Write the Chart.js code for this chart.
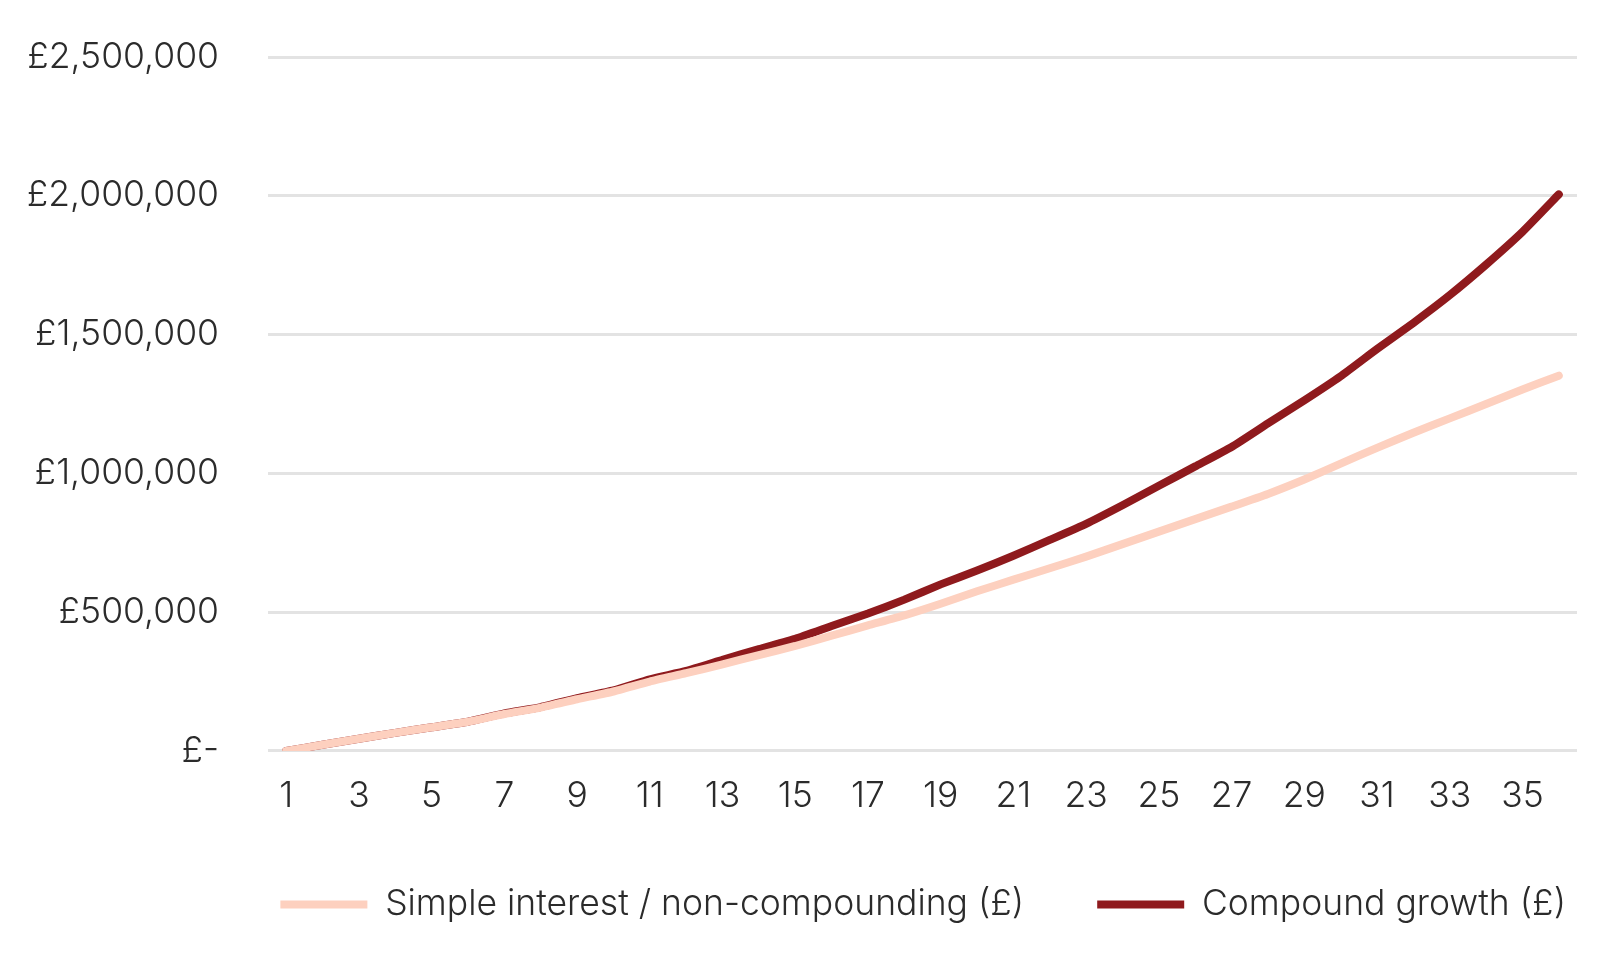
<!DOCTYPE html>
<html>
<head>
<meta charset="utf-8">
<script src="https://cdn.jsdelivr.net/npm/chart.js@4.4.1/dist/chart.umd.min.js"></script>
<style>
  html, body { margin: 0; padding: 0; background: #fff; }
  #wrap { width: 1600px; height: 958px; position: relative; }
</style>
</head>
<body>
<div id="wrap"><canvas id="growthChart"></canvas></div>
<script>
// --- Data ---
const years = Array.from({ length: 36 }, (_, i) => String(i + 1));

const simpleInterest = [
    0, 22000, 44000, 65000, 85000, 105000, 133000, 156000, 186000, 214000,
    250000, 280000, 312000, 345000, 378000, 415000, 452000, 488000, 530000, 575000,
    617000, 658000, 700000, 745000, 790000, 835000, 880000, 926000, 978000, 1035000,
    1092000, 1146000, 1198000, 1250000, 1302000, 1352000
];

const compoundGrowth = [
    0, 22000, 44000, 65000, 85000, 105000, 135000, 158000, 190000, 218000,
    258000, 288000, 328000, 367000, 404000, 450000, 495000, 545000, 600000, 650000,
    703000, 760000, 818000, 885000, 955000, 1025000, 1095000, 1180000, 1263000, 1350000,
    1448000, 1542000, 1642000, 1752000, 1870000, 2005000
];

const seriesNames = ['Simple interest / non-compounding (£)', 'Compound growth (£)'];
const seriesColors = ['#fdd0bf', '#8f1a1d'];

const yMax = 2500000;
const yStep = 500000;

Chart.defaults.font.family = 'Inter, "Noto Sans", sans-serif';
Chart.defaults.font.weight = 300;
Chart.defaults.color = '#2b2b2b';

function poundLabel(v) {
    if (v === 0) return '£-';
    return '£' + v.toLocaleString('en-GB');
}

// place the legend row: right-aligned near the edge, centred at y=908
const legendPlace = {
    id: 'legendPlace',
    afterLayout(chart) {
        const lg = chart.legend;
        const pad = lg.options.labels.padding;
        lg.right = chart.width - 34 + pad;
        lg.top = 908 - 21.3 - pad;
        lg.bottom = lg.top + lg.height;
    }
};

const ctx = document.getElementById('growthChart').getContext('2d');
new Chart(ctx, {
    type: 'line',
    data: {
        labels: years,
        datasets: [
            {
                label: seriesNames[0],
                data: simpleInterest,
                borderColor: seriesColors[0],
                backgroundColor: seriesColors[0],
                borderWidth: 8,
                pointRadius: 0,
                tension: 0.15,
                borderCapStyle: 'round'
            },
            {
                label: seriesNames[1],
                data: compoundGrowth,
                borderColor: seriesColors[1],
                backgroundColor: seriesColors[1],
                borderWidth: 8,
                pointRadius: 0,
                tension: 0.15,
                borderCapStyle: 'round'
            }
        ]
    },
    options: {
        responsive: true,
        maintainAspectRatio: false,
        animation: false,
        layout: { padding: { top: 57, right: 23, left: 0, bottom: 6 } },
        plugins: {
            tooltip: { enabled: false },
            legend: {
                position: 'bottom',
                align: 'end',
                labels: {
                    boxWidth: 87,
                    boxHeight: 8,
                    padding: 73,
                    font: { size: 35.5, weight: 300 },
                    color: '#2b2b2b',
                    generateLabels: function (chart) {
                        const items = Chart.defaults.plugins.legend.labels.generateLabels(chart);
                        return items.map(it => Object.assign(it, { lineWidth: 0 }));
                    }
                }
            }
        },
        scales: {
            x: {
                offset: true,
                grid: { display: false },
                border: { display: false },
                ticks: {
                    autoSkip: false,
                    maxRotation: 0,
                    padding: 16,
                    font: { size: 35.5, weight: 300 },
                    callback: function (val, i) {
                        return i % 2 === 0 ? this.getLabelForValue(val) : '';
                    }
                }
            },
            y: {
                min: 0,
                max: yMax,
                grid: {
                    color: '#e3e3e3',
                    lineWidth: 3,
                    drawTicks: false
                },
                border: { display: false },
                afterFit: function (s) {
                    s.width = 268;
                    s.paddingTop = 0;
                    s.paddingBottom = 0;
                },
                ticks: {
                    stepSize: yStep,
                    padding: 49,
                    font: { size: 35.5, weight: 300 },
                    callback: poundLabel
                }
            }
        }
    },
    plugins: [legendPlace]
});
</script>
</body>
</html>
